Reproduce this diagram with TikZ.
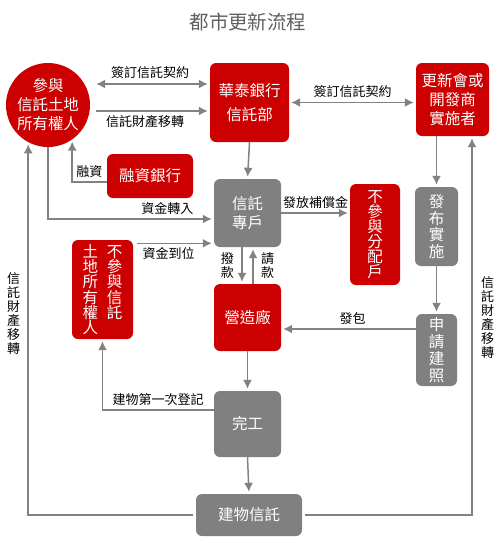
\documentclass[tikz,border=0pt]{standalone}
\usepackage{fontspec}
\setmainfont{Noto Sans CJK TC}
\usetikzlibrary{arrows.meta}
\definecolor{flowred}{RGB}{204,0,0}
\definecolor{flowgray}{RGB}{128,128,128}
\definecolor{linegray}{RGB}{130,130,130}
\definecolor{titlegray}{RGB}{95,95,95}
\newcommand{\boxfont}{\fontsize{15.5}{19}\selectfont}
\newcommand{\lblfont}{\fontsize{13}{14}\selectfont}
\newcommand{\vcol}[1]{\vtop{\hsize=15.5pt\parindent=0pt\baselineskip=15.2pt #1}}

\begin{document}
\begin{tikzpicture}[x=1pt,y=-1pt,
    redbox/.style={fill=flowred,text=white,rounded corners=6pt,inner sep=0pt,align=center,font=\boxfont},
    graybox/.style={fill=flowgray,text=white,rounded corners=6pt,inner sep=0pt,align=center,font=\boxfont},
    arr/.style={draw=linegray,line width=1.5pt,-{Latex[length=9pt,width=9pt]},shorten >=2pt},
    dbl/.style={draw=linegray,line width=1.5pt,{Latex[length=9pt,width=9pt]}-{Latex[length=9pt,width=9pt]},shorten >=2pt},
    lbl/.style={font=\lblfont,text=black,align=center}]
      \useasboundingbox (0,0) rectangle (500,550);

      \node[font=\fontsize{19.5}{22}\selectfont,text=titlegray] (title) at (248,22) {都市更新流程};

      % top row
      \node[redbox,circle,minimum size=84pt] (owner) at (48,105) {參與\\信託土地\\所有權人};
      \node[redbox,minimum width=79pt,minimum height=79pt] (trust) at (249.5,102.5) {華泰銀行\\[5pt]信託部};
      \node[redbox,minimum width=73pt,minimum height=73pt] (dev) at (452.5,99.5) {更新會或\\開發商\\實施者};
      \node[redbox,minimum width=86pt,minimum height=44pt] (bank) at (150,176) {融資銀行};

      % middle
      \node[graybox,minimum width=67pt,minimum height=68pt] (acct) at (247.5,213) {信託\\專戶};
      \node[redbox,minimum width=61pt,minimum height=99pt] (nonp) at (102.5,289.5)
        {\vcol{土\par 地\par 所\par 有\par 權\par 人}\hspace{9pt}\vcol{不\par 參\par 與\par 信\par 託}};
      \node[redbox,minimum width=67pt,minimum height=67pt] (con) at (247.5,317.5) {營造廠};
      \node[redbox,minimum width=50pt,minimum height=101pt,font=\fontsize{15.5}{15}\selectfont] (nonpd) at (375,234.5) {不\\參\\與\\分\\配\\戶};
      \node[graybox,minimum width=43pt,minimum height=79pt,font=\fontsize{15.5}{16.5}\selectfont] (ann) at (436.5,226.5) {發\\布\\實\\施};
      \node[graybox,minimum width=41pt,minimum height=72pt,font=\fontsize{15.5}{17}\selectfont] (apply) at (436.5,350) {申\\請\\建\\照};

      % bottom
      \node[graybox,minimum width=67pt,minimum height=66pt] (done) at (247.5,424) {完工};
      \node[graybox,minimum width=106pt,minimum height=42pt] (bldg) at (249,515) {建物信託};

      % contracts
      \coordinate (sign) at ([yshift=18.5]trust.west);
      \coordinate (give) at ([yshift=-8.5]trust.west);
      \draw[dbl,shorten <=6pt] (sign -| owner.east) -- (sign) node[lbl,above=1pt,midway] {簽訂信託契約};
      \draw[arr,shorten <=6pt] (give -| owner.east) -- (give) node[lbl,below,pos=0.46] {信託財產移轉};
      \draw[dbl,shorten <=2pt] (trust.east) -- (trust.east -| dev.west) node[lbl,above=1pt,midway] {簽訂信託契約};

      % money
      \draw[arr] (trust.south) -- (acct.north);
      \draw[arr] ([yshift=-6]bank.west) -| (owner.-55) node[lbl,above right,pos=0.5] {融資};
      \draw[arr] (owner.south) |- ([yshift=-6]acct.west) node[lbl,above,pos=0.86] {資金轉入};
      \coordinate (fund) at ([yshift=-3.5]nonp.north east);
      \draw[arr,shorten <=4pt] (fund) -- (fund -| acct.west) node[lbl,below,pos=0.44] {資金到位};
      \draw[arr] (acct.east) -- (acct.east -| nonpd.west) node[lbl,above,midway] {發放補償金};
      \draw[arr] ([xshift=-5.5]acct.south) -- ([xshift=-5.5]con.north) node[lbl,left=4pt,midway] {撥\\款};
      \draw[arr] ([xshift=5.5]con.north) -- ([xshift=5.5]acct.south) node[lbl,right=4pt,midway] {請\\款};

      % right column
      \draw[arr] (dev.south -| ann.north) -- (ann.north);
      \draw[arr] (ann.south) -- (apply.north);
      \coordinate (bid) at ([yshift=21]apply.west);
      \draw[arr] (bid) -- (bid -| con.east) node[lbl,above,pos=0.47] {發包};

      % completion
      \draw[arr] (con.south) -- (done.north);
      \draw[arr] ([yshift=14]done.west) -| (nonp.south) node[lbl,above,pos=0.25] {建物第一次登記};
      \draw[arr] (done.south) -- (bldg.north);
      \draw[arr,shorten <=3pt] (bldg.west) -| (owner.-118) node[lbl,left=4pt,pos=0.77] {信\\託\\財\\產\\移\\轉};
      \draw[arr,shorten <=3pt] (bldg.east) -| ([xshift=19.5]dev.south) node[lbl,right=5pt,pos=0.76] {信\\託\\財\\產\\移\\轉};
\end{tikzpicture}
\end{document}
